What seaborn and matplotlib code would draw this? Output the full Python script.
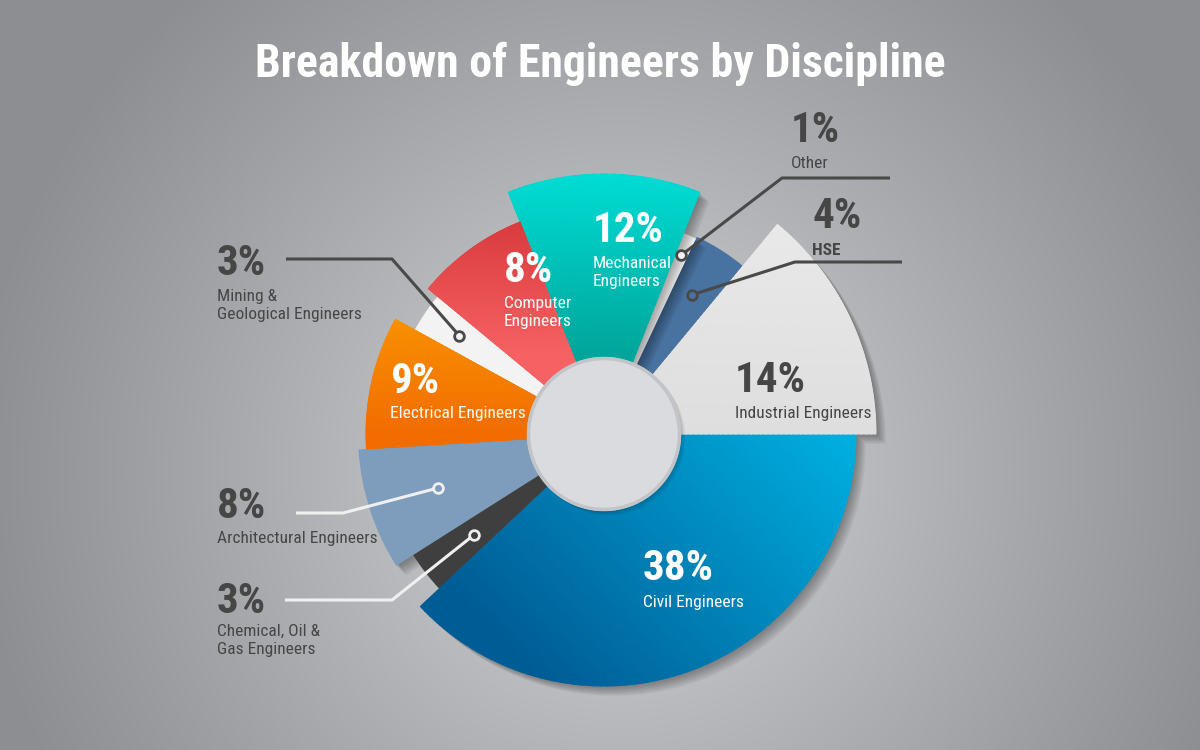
import numpy as np
import matplotlib
matplotlib.use("Agg")
import matplotlib.pyplot as plt
import matplotlib.colors as mcolors
import matplotlib.patheffects as pe
import seaborn as sns

# wedges listed counter-clockwise, starting at 3 o'clock
labels = ["Industrial Engineers", "HSE", "Other", "Mechanical\nEngineers", "Computer\nEngineers",
          "Mining &\nGeological Engineers", "Electrical Engineers", "Architectural Engineers",
          "Chemical, Oil &\nGas Engineers", "Civil Engineers"]
shares = [14, 4, 1, 12, 8, 3, 9, 8, 3, 38]
# outer radius of each wedge in pixels
outer_radius = [272, 218, 216, 260, 228, 216, 238, 246, 226, 252]
hole_radius = 77
wedge_colors = ["#e4e4e4", "#4872a0", "#f5f5f5", "#00c4bb", "#e84a4d", "#f3f3f3",
                "#f68400", "#7e9cbb", "#3f3f3f", "#0586c0"]

# gradients: wedge index -> (direction deg, from, to, low colour, high colour)
gradients = {
    9: (45, -220, 180, "#005c95", "#00b1e2"),
    3: (90, 80, 260, "#00a69b", "#00ddd5"),
    4: (90, 80, 220, "#f76264", "#d8393c"),
    6: (90, 0, 145, "#f26c00", "#fa9a00"),
    0: (90, 0, 272, "#dedede", "#ececec"),
}

sns.set_theme(style="white")
plt.rcParams["font.family"] = ["Roboto Condensed", "Archivo Narrow", "Barlow Condensed", "DejaVu Sans"]
plt.rcParams["font.stretch"] = "condensed"

W, H = 1200, 750
cx, cy = 604, 434          # pie centre in pixels (from top)
R_AX = 300                 # polar axes radius in pixels

fig = plt.figure(figsize=(12, 7.5), dpi=100)

# radial grey background
bg = fig.add_axes([0, 0, 1, 1], zorder=0)
yy, xx = np.mgrid[0:H, 0:W]
t = np.clip(np.hypot(xx - 620, yy - 470) / 650, 0, 1) ** 0.85
c_in = np.array(mcolors.to_rgb("#dadbde"))
c_out = np.array(mcolors.to_rgb("#8d8e91"))
bg.imshow(c_in + (c_out - c_in) * t[..., None], aspect="auto")
bg.axis("off")

# polar axes: 1 data unit = 1 pixel
ax = fig.add_axes([(cx - R_AX) / W, (H - cy - R_AX) / H, 2 * R_AX / W, 2 * R_AX / H],
                  projection="polar", zorder=2)
ax.set_ylim(0, R_AX)
ax.set_axis_off()

fracs = np.array(shares) / sum(shares)
widths = fracs * 2 * np.pi
starts = np.concatenate([[0], np.cumsum(widths)[:-1]])
heights = np.array(outer_radius) - hole_radius

# soft shadow built from several faint offset copies
soft = [pe.SimplePatchShadow(offset=(k, -k), shadow_rgbFace="black", alpha=0.05) for k in range(1, 8)]
bars = ax.bar(starts, heights, width=widths, bottom=hole_radius, align="edge",
              color=wedge_colors, linewidth=0, zorder=2)
for b in bars:
    b.set_path_effects(soft + [pe.Normal()])

for i, (ang, d0, d1, lo, hi) in gradients.items():
    th = np.linspace(starts[i], starts[i] + widths[i], 90)
    rr = np.linspace(hole_radius, outer_radius[i], 40)
    TH, RR = np.meshgrid(th, rr)
    P = RR * np.cos(TH) * np.cos(np.radians(ang)) + RR * np.sin(TH) * np.sin(np.radians(ang))
    C = np.clip((P - d0) / (d1 - d0), 0, 1)
    cmap = sns.blend_palette([lo, hi], as_cmap=True)
    ax.pcolormesh(TH, RR, C, cmap=cmap, vmin=0, vmax=1, shading="gouraud", zorder=3)

# centre hole
hole = ax.bar(0, hole_radius, width=2 * np.pi, bottom=0, color="#d9dbde", linewidth=0, zorder=4)
hole[0].set_path_effects([pe.SimplePatchShadow(offset=(k, -k), shadow_rgbFace="black", alpha=0.06)
                          for k in range(1, 4)] + [pe.Normal()])
ring = np.linspace(0, 2 * np.pi, 300)
ax.plot(ring, np.full_like(ring, hole_radius - 1.5), color="#c2c4c7", lw=2.5, zorder=5)

# overlay in pixel coordinates for text and leaders
fx = fig.add_axes([0, 0, 1, 1], zorder=5)
fx.set_xlim(0, W)
fx.set_ylim(H, 0)
fx.axis("off")
fx.patch.set_alpha(0)

fx.text(600, 77, "Breakdown of Engineers by Discipline", ha="center", va="baseline",
        fontsize=33, fontweight="bold", color="white")

dark = "#464646"
pct_size = 31
lab_size = 12.5
# (pct left x, pct baseline y, label top y, text colour, bold label)
text_pos = [
    (735, 392, 406, dark, False),
    (812, 228, 243, dark, True),
    (791, 142, 156, dark, False),
    (593, 242, 256, "white", False),
    (504, 282, 296, "white", False),
    (217, 275, 289, dark, False),
    (390, 393, 406, "white", False),
    (217, 518, 531, dark, False),
    (217, 613, 624, dark, False),
    (643, 580, 595, "white", False),
]
for i, (x, yb, yl, col, bold) in enumerate(text_pos):
    fx.text(x, yb, f"{shares[i]}%", ha="left", va="baseline", fontsize=pct_size,
            fontweight="heavy", color=col)
    fx.text(x, yl, labels[i], ha="left", va="top", fontsize=lab_size, color=col,
            fontweight="bold" if bold else "normal", linespacing=1.22)

# leader lines: wedge index -> (outer x, elbow x, y, dot radius, colour)
leaders = {
    2: (890, 782, 178, 195, "#494949"),
    1: (902, 795, 262, 165, "#494949"),
    5: (286, 392, 259, 175, "#494949"),
    7: (296, 343, 513, 175, "#f0f0f0"),
    8: (285, 392, 600, 165, "#f0f0f0"),
}
to_px = fx.transData.inverted()
for i, (xo, xe, y, rd, col) in leaders.items():
    mid = starts[i] + widths[i] / 2
    dx, dy = to_px.transform(ax.transData.transform((mid, rd)))
    fx.plot([xo, xe, dx], [y, y, dy], color=col, lw=2.2, solid_capstyle="butt", zorder=6)
    fx.plot(dx, dy, marker="o", ms=7, mew=2, mec=col, mfc=wedge_colors[i], zorder=7)

fig.savefig("out.png", dpi=100)
